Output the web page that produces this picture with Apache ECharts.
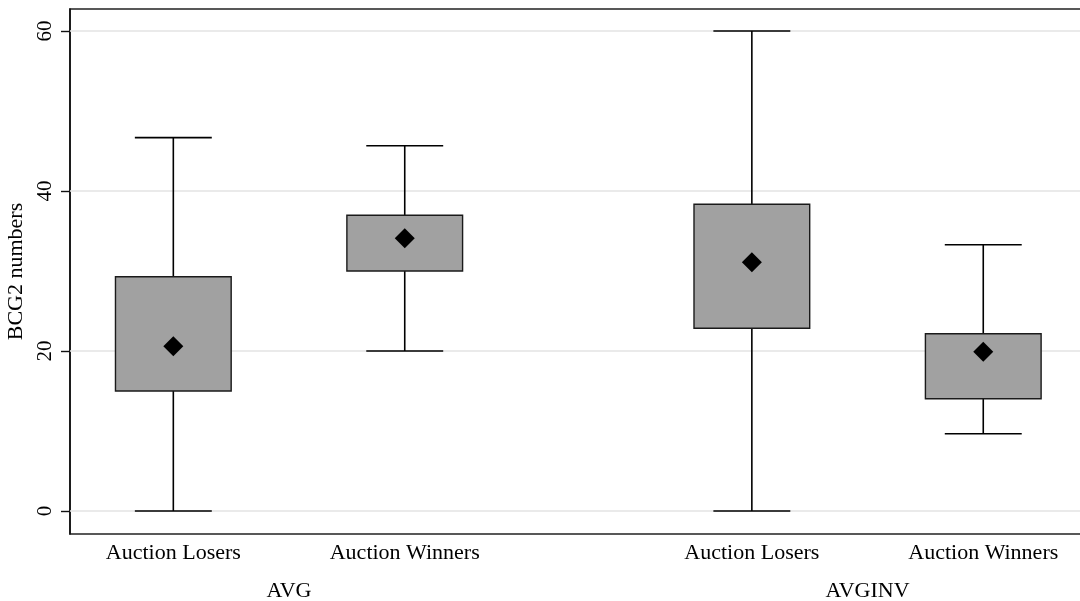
<!DOCTYPE html>
<html>
<head>
<meta charset="utf-8">
<script src="https://cdn.jsdelivr.net/npm/echarts@6/dist/echarts.min.js"></script>
<style>
  html, body { margin: 0; padding: 0; background: #fff; }
  #chart { width: 1080px; height: 601px; }
</style>
</head>
<body>
<div id="chart"></div>
<script>
// Groups and the two subgroups drawn within each
const groups = ['AVG', 'AVGINV'];
const members = ['Auction Losers', 'Auction Winners'];

// Box statistics, in order: AVG losers, AVG winners, AVGINV losers, AVGINV winners
const whiskerLow = [0, 20.0, 0, 9.66];
const quartile1 = [15.0, 30.0, 22.84, 14.04];
const quartile3 = [29.29, 36.96, 38.34, 22.16];
const whiskerHigh = [46.67, 45.66, 60.0, 33.29];
const means = [20.6, 34.09, 31.1, 19.91];

const yTicks = [0, 20, 40, 60];

// Horizontal layout: boxes one unit wide, two units apart, with a wider gap between groups
const MEMBER_STEP = 2;
const GROUP_STEP = 5;
const BOX_WIDTH = 1.0;
const CAP_WIDTH = 0.665;

const boxData = [];
const meanData = [];
const memberTicks = [];
const memberNames = {};
const groupTicks = [];
const groupNames = {};
groups.forEach(function (g, gi) {
  members.forEach(function (m, mi) {
    const i = gi * members.length + mi;
    const x = gi * GROUP_STEP + mi * MEMBER_STEP;
    boxData.push([x, whiskerLow[i], quartile1[i], quartile3[i], whiskerHigh[i]]);
    meanData.push([x, means[i]]);
    memberTicks.push(x);
    memberNames[x] = m;
  });
  const c = gi * GROUP_STEP + (members.length - 1) * MEMBER_STEP / 2;
  groupTicks.push(c);
  groupNames[c] = g;
});

const FONT = '"Liberation Serif", "Times New Roman", serif';
const X_MIN = -0.893;
const X_MAX = 7.862;
const chart = echarts.init(document.getElementById('chart'));

function renderBox(params, api) {
  const x = api.value(0);
  const lo = api.coord([x, api.value(1)]);
  const q1 = api.coord([x, api.value(2)]);
  const q3 = api.coord([x, api.value(3)]);
  const hi = api.coord([x, api.value(4)]);
  const unit = api.size([1, 0])[0];
  const bw = unit * BOX_WIDTH;
  const cw = unit * CAP_WIDTH;
  const lineStyle = { stroke: '#000', lineWidth: 1.6, fill: null };
  return {
    type: 'group',
    children: [
      { type: 'line', shape: { x1: hi[0], y1: hi[1], x2: q3[0], y2: q3[1] }, style: lineStyle },
      { type: 'line', shape: { x1: q1[0], y1: q1[1], x2: lo[0], y2: lo[1] }, style: lineStyle },
      { type: 'line', shape: { x1: hi[0] - cw / 2, y1: hi[1], x2: hi[0] + cw / 2, y2: hi[1] }, style: lineStyle },
      { type: 'line', shape: { x1: lo[0] - cw / 2, y1: lo[1], x2: lo[0] + cw / 2, y2: lo[1] }, style: lineStyle },
      {
        type: 'rect',
        shape: { x: q3[0] - bw / 2, y: q3[1], width: bw, height: q1[1] - q3[1] },
        style: { fill: '#a1a1a1', stroke: '#1a1a1a', lineWidth: 1.4 }
      }
    ]
  };
}

// Light horizontal reference line across the plot at a tick value
function renderGridLine(params, api) {
  const cs = params.coordSys;
  const p = api.coord([0, api.value(0)]);
  return {
    type: 'line',
    shape: { x1: cs.x, y1: p[1], x2: cs.x + cs.width, y2: p[1] },
    style: { stroke: '#e3e3e3', lineWidth: 1.6 }
  };
}

const option = {
  animation: false,
  backgroundColor: '#fff',
  grid: {
    left: 70, right: -3, top: 9, bottom: 67,
    outerBoundsMode: 'none',
    containLabel: false,
    show: true, borderColor: '#222', borderWidth: 1.6, backgroundColor: 'transparent'
  },
  xAxis: [
    {
      type: 'value',
      min: X_MIN,
      max: X_MAX,
      axisLine: { show: false },
      axisTick: { show: false },
      splitLine: { show: false },
      axisLabel: {
        customValues: memberTicks,
        formatter: function (v) { return memberNames[v] || ''; },
        fontFamily: FONT, fontSize: 22, color: '#000', margin: 8
      }
    },
    {
      type: 'value',
      position: 'bottom',
      min: X_MIN,
      max: X_MAX,
      axisLine: { show: false },
      axisTick: { show: false },
      splitLine: { show: false },
      axisLabel: {
        customValues: groupTicks,
        formatter: function (v) { return groupNames[v] || ''; },
        fontFamily: FONT, fontSize: 22, color: '#000', margin: 46
      }
    }
  ],
  yAxis: {
    type: 'value',
    min: -2.875,
    max: 62.75,
    name: 'BCG2 numbers',
    nameLocation: 'middle',
    nameRotate: 90,
    nameGap: 38,
    nameTextStyle: { fontFamily: FONT, fontSize: 22, color: '#000' },
    axisLine: { show: true, onZero: false, lineStyle: { color: '#111', width: 1.6 } },
    axisTick: { show: true, length: 9, customValues: yTicks, lineStyle: { color: '#111', width: 1.4 } },
    axisLabel: {
      customValues: yTicks,
      rotate: 90,
      fontFamily: FONT, fontSize: 21, color: '#000', margin: 14
    },
    splitLine: { show: false }
  },
  series: [
    {
      type: 'custom',
      renderItem: renderGridLine,
      data: yTicks.map(function (v) { return [v]; }),
      encode: { y: 0 },
      silent: true,
      z: 1
    },
    {
      type: 'custom',
      renderItem: renderBox,
      data: boxData,
      encode: { x: 0, y: [1, 2, 3, 4] },
      z: 3
    },
    {
      type: 'scatter',
      data: meanData,
      symbol: 'diamond',
      symbolSize: [20, 20],
      itemStyle: { color: '#000', opacity: 1 },
      z: 4
    }
  ]
};

chart.setOption(option);
</script>
</body>
</html>
